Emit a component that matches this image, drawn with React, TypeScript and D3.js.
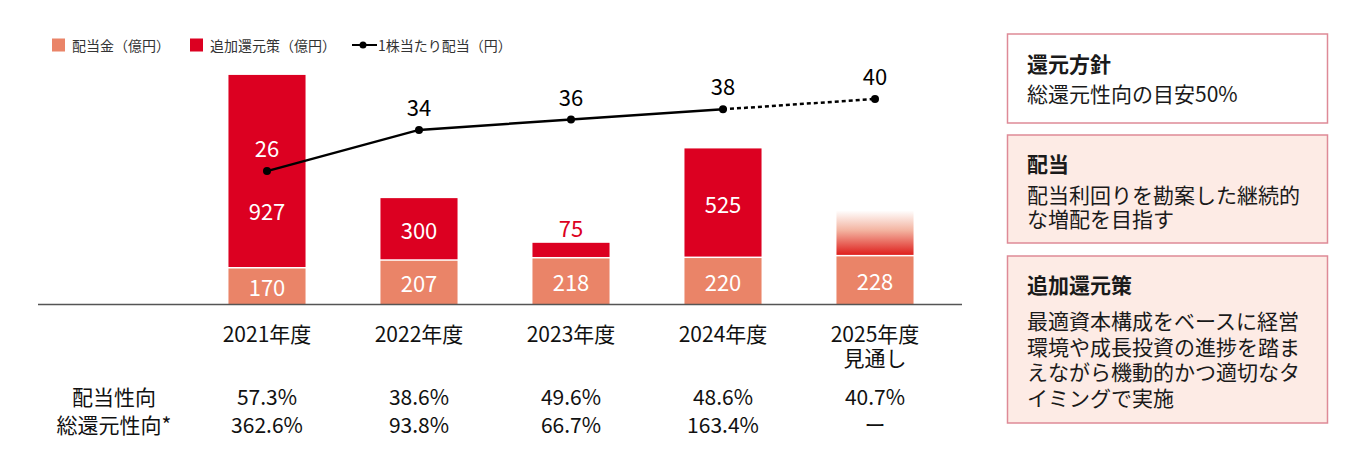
import { scaleBand, scaleLinear, line } from 'd3';

// Data
const years = ['2021年度', '2022年度', '2023年度', '2024年度', '2025年度'];
const yearSub = ['', '', '', '', '見通し'];
const dividends = [170, 207, 218, 220, 228];
const additional: (number | null)[] = [927, 300, 75, 525, null];
const additionalPending = 220; // 2025 undecided: faded placeholder
const perShare = [26, 34, 36, 38, 40];
const payoutRatio = ['57.3%', '38.6%', '49.6%', '48.6%', '40.7%'];
const totalReturnRatio = ['362.6%', '93.8%', '66.7%', '163.4%', 'ー'];
const rowLabels = ['配当性向', '総還元性向*'];
const legendLabels = ['配当金（億円）', '追加還元策（億円）', '1株当たり配当（円）'];

const policyTitles = ['還元方針', '配当', '追加還元策'];
const policyLines = [
  ['総還元性向の目安50%'],
  ['配当利回りを勘案した継続的', 'な増配を目指す'],
  ['最適資本構成をベースに経営', '環境や成長投資の進捗を踏ま', 'えながら機動的かつ適切なタ', 'イミングで実施'],
];

const COLOR_DIV = '#EA8468';
const COLOR_ADD = '#DC0021';
const FONT = '"Noto Sans CJK JP", "Noto Sans", sans-serif';

// Box layout for the policy panel
const boxes = [
  { top: 34, height: 89, titleY: 63, firstY: 92.5, step: 24, fill: '#FFFFFF' },
  { top: 135, height: 108, titleY: 162.5, firstY: 194, step: 23.5, fill: '#FDEBE5' },
  { top: 256, height: 167, titleY: 283.5, firstY: 320, step: 25.5, fill: '#FDEBE5' },
];

export default function App() {
  const width = 1360;
  const height = 464;
  const baseline = 304;

  const x = scaleBand<string>()
    .domain(years)
    .range([191, 951])
    .paddingInner(0.493)
    .paddingOuter(0.2465);

  const y = scaleLinear().domain([0, 1100]).range([baseline, 74.3]);
  const yLine = scaleLinear().domain([0, 40]).range([305, 99]);

  const cx = (d: string) => (x(d) ?? 0) + x.bandwidth() / 2;

  const pts = perShare.map((v, i) => [cx(years[i]), yLine(v)] as [number, number]);
  const lineGen = line<[number, number]>();
  const solidPts = pts.slice(0, 4);
  const dashedPts = pts.slice(3);

  return (
    <svg
      width={width}
      height={height}
      style={{ position: 'absolute', left: 0, top: 0, fontFamily: FONT }}
    >
      <defs>
        <linearGradient id="pending" x1="0" y1="0" x2="0" y2="1">
          <stop offset="0%" stopColor="#FFFFFF" />
          <stop offset="45%" stopColor="#F3B3A0" />
          <stop offset="100%" stopColor="#DE1F1C" />
        </linearGradient>
      </defs>

      {/* Legend */}
      <g fontSize={14} fill="#333">
        <rect x={52} y={38.5} width={13} height={13} fill={COLOR_DIV} />
        <text x={72} y={45} dominantBaseline="central">{legendLabels[0]}</text>
        <rect x={190} y={38.5} width={13} height={13} fill={COLOR_ADD} />
        <text x={210} y={45} dominantBaseline="central">{legendLabels[1]}</text>
        <line x1={352} x2={377} y1={45} y2={45} stroke="#000" strokeWidth={2} />
        <circle cx={363} cy={45} r={3.5} fill="#000" />
        <text x={378} y={45} dominantBaseline="central">{legendLabels[2]}</text>
      </g>

      {/* Bars */}
      {years.map((yr, i) => {
        const bx = x(yr) ?? 0;
        const bw = x.bandwidth();
        const div = dividends[i];
        const add = additional[i];
        const divTop = y(div);
        const total = div + (add ?? additionalPending);
        const addTop = y(total);
        const c = cx(yr);
        let addLabel = null;
        if (add !== null) {
          const segH = divTop - addTop;
          if (segH < 30) {
            addLabel = (
              <text x={c} y={addTop - 6} textAnchor="middle" fontSize={22} fill={COLOR_ADD}>
                {add}
              </text>
            );
          } else {
            const pointY = yLine(perShare[i]);
            const ly = pointY > addTop && pointY < divTop ? y(div + add * 0.3) : (addTop + divTop) / 2;
            addLabel = (
              <text x={c} y={ly} textAnchor="middle" dominantBaseline="central" fontSize={22} fill="#fff">
                {add}
              </text>
            );
          }
        }
        return (
          <g key={yr}>
            <rect
              x={bx}
              y={addTop}
              width={bw}
              height={divTop - addTop - 1.5}
              fill={add === null ? 'url(#pending)' : COLOR_ADD}
            />
            <rect x={bx} y={divTop} width={bw} height={baseline - divTop} fill={COLOR_DIV} />
            <text
              x={c}
              y={(divTop + baseline) / 2}
              textAnchor="middle"
              dominantBaseline="central"
              fontSize={22}
              fill="#fff"
            >
              {div}
            </text>
            {addLabel}
          </g>
        );
      })}

      {/* Axis line */}
      <line x1={38} x2={962} y1={baseline + 0.5} y2={baseline + 0.5} stroke="#555" strokeWidth={1.5} />

      {/* Per-share dividend line */}
      <path d={lineGen(solidPts) ?? ''} fill="none" stroke="#000" strokeWidth={2.5} />
      <path d={lineGen(dashedPts) ?? ''} fill="none" stroke="#000" strokeWidth={2.5} strokeDasharray="4 3" />
      {pts.map(([px, py], i) => (
        <g key={i}>
          <circle cx={px} cy={py} r={4} fill="#000" />
          <text x={px} y={py - 14} textAnchor="middle" fontSize={22} fill={i === 0 ? '#fff' : '#000'}>
            {perShare[i]}
          </text>
        </g>
      ))}

      {/* Category labels */}
      {years.map((yr, i) => (
        <g key={yr} fontSize={21} fill="#111" textAnchor="middle">
          <text x={cx(yr)} y={333} dominantBaseline="central">{yr}</text>
          {yearSub[i] && (
            <text x={cx(yr)} y={356.5} dominantBaseline="central">{yearSub[i]}</text>
          )}
        </g>
      ))}

      {/* Ratio rows */}
      <g fontSize={21} fill="#111" textAnchor="middle">
        <text x={114} y={396} dominantBaseline="central">{rowLabels[0]}</text>
        <text x={114} y={424} dominantBaseline="central">{rowLabels[1]}</text>
        {years.map((yr, i) => (
          <g key={yr}>
            <text x={cx(yr)} y={396} dominantBaseline="central">{payoutRatio[i]}</text>
            <text x={cx(yr)} y={424} dominantBaseline="central">{totalReturnRatio[i]}</text>
          </g>
        ))}
      </g>

      {/* Policy panel */}
      {boxes.map((b, i) => (
        <g key={i}>
          <rect
            x={1007.5}
            y={b.top}
            width={320}
            height={b.height}
            fill={b.fill}
            stroke="#DE8A97"
            strokeWidth={1.5}
          />
          <text x={1027} y={b.titleY} dominantBaseline="central" fontSize={21} fontWeight={700} fill="#1a1a1a">
            {policyTitles[i]}
          </text>
          {policyLines[i].map((t, j) => (
            <text
              key={j}
              x={1027}
              y={b.firstY + j * b.step}
              dominantBaseline="central"
              fontSize={21}
              fill="#1a1a1a"
            >
              {t}
            </text>
          ))}
        </g>
      ))}
    </svg>
  );
}
